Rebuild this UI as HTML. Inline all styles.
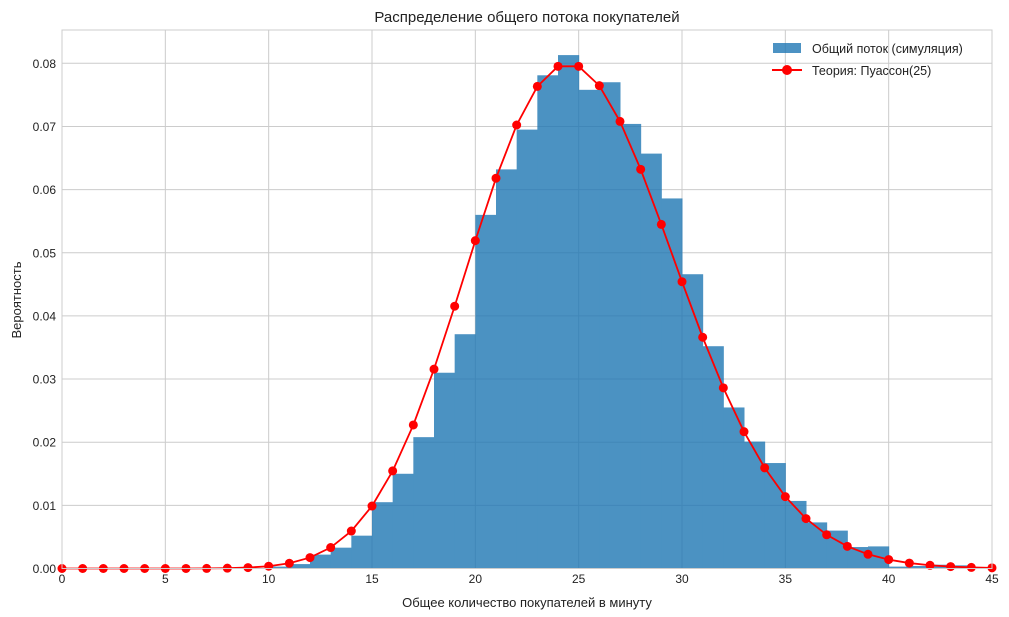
<!DOCTYPE html>
<html><head><meta charset="utf-8"><style>
body{margin:0;background:#fff;}
svg{display:block;font-family:"Liberation Sans","DejaVu Sans",sans-serif;}
</style></head><body>
<svg id="chart" width="1009" height="617">
<text x="527" y="22" text-anchor="middle" font-size="15" fill="#222">Распределение общего потока покупателей</text>
<g id="grid"></g>
<g id="bars" opacity="0.8"></g>
<g id="line"></g>
<rect x="62" y="30" width="930" height="538.5" fill="none" stroke="#ccc" stroke-width="1"/>
<g id="ticks"></g>
<text x="527" y="607" text-anchor="middle" font-size="13" fill="#222">Общее количество покупателей в минуту</text>
<text transform="translate(21,300) rotate(-90)" text-anchor="middle" font-size="13" fill="#222">Вероятность</text>
<g>
<rect x="773" y="43" width="28" height="10" fill="#1f77b4" fill-opacity="0.8"/>
<text x="812" y="53" font-size="12.5" fill="#222">Общий поток (симуляция)</text>
<line x1="772" y1="70" x2="802" y2="70" stroke="red" stroke-width="2"/>
<circle cx="787" cy="70" r="5" fill="red"/>
<text x="812" y="75" font-size="12.5" fill="#222">Теория: Пуассон(25)</text>
</g>
</svg>
<script>
const binStarts=[10,11,12,13,14,15,16,17,18,19,20,21,22,23,24,25,26,27,28,29,30,31,32,33,34,35,36,37,38,39,40,41,42,43,44];
const binValues=[0.0003,0.0007,0.0022,0.0033,0.0052,0.0105,0.015,0.0208,0.031,0.0371,0.056,0.0632,0.0695,0.0781,0.0813,0.0758,0.077,0.0704,0.0657,0.0586,0.0466,0.0352,0.0255,0.0201,0.0167,0.0107,0.0073,0.006,0.0034,0.0035,0.0003,0.0004,0.0006,0.0005,0.0001];
const poissonK=[0,1,2,3,4,5,6,7,8,9,10,11,12,13,14,15,16,17,18,19,20,21,22,23,24,25,26,27,28,29,30,31,32,33,34,35,36,37,38,39,40,41,42,43,44,45];
const poissonP=[0,0,0,0,0,0,0.000005,0.000017,0.000053,0.000146,0.00036,0.00083,0.00173,0.00332,0.00593,0.00989,0.01545,0.02273,0.03157,0.04153,0.05192,0.0618,0.07023,0.07634,0.07952,0.07952,0.07646,0.0708,0.06321,0.05449,0.04541,0.03662,0.02861,0.02167,0.01594,0.01138,0.0079,0.00534,0.00351,0.00225,0.00141,0.00086,0.00051,0.0003,0.00017,0.0001];
const xTicks=[0,5,10,15,20,25,30,35,40,45];
const yTicks=[0,0.01,0.02,0.03,0.04,0.05,0.06,0.07,0.08];
const NS="http://www.w3.org/2000/svg";
const X0=62,X1=992,Y0=568.5,YT=63.3;
function sx(v){return X0+(v-0)/45*(X1-X0);}
function sy(v){return Y0-(v/0.08)*(Y0-YT);}
function mk(tag,attrs,parent){const e=document.createElementNS(NS,tag);for(const k in attrs)e.setAttribute(k,attrs[k]);parent.appendChild(e);return e;}
const grid=document.getElementById('grid'),ticks=document.getElementById('ticks');
xTicks.forEach(t=>{
  const l=mk('line',{x1:sx(t),x2:sx(t),y1:30,y2:Y0,stroke:'#ccc','stroke-width':1},grid);
  
  
  const tx=mk('text',{x:sx(t),y:583,'text-anchor':'middle','font-size':12,fill:'#222'},ticks);
  tx.textContent=t;
  
  
});
yTicks.forEach(t=>{
  const l=mk('line',{x1:X0,x2:X1,y1:sy(t),y2:sy(t),stroke:'#ccc','stroke-width':1},grid);
  
  
  const tx=mk('text',{x:56,y:sy(t)+4.5,'text-anchor':'end','font-size':12,fill:'#222'},ticks);
  tx.textContent=t.toFixed(2);
  
  
});
const bars=document.getElementById('bars');
binStarts.forEach((b,i)=>{
  const r=mk('rect',{x:sx(b),y:sy(binValues[i]),width:sx(b+1)-sx(b)+0.5,height:Y0-sy(binValues[i]),fill:'#1f77b4'},bars);
  
  
});
const lg=document.getElementById('line');
const pts=poissonK.map((k,i)=>sx(k)+','+sy(poissonP[i])).join(' ');
const pl=mk('polyline',{points:pts,fill:'none',stroke:'red','stroke-width':1.8},lg);


poissonK.forEach((k,i)=>{
  const c=mk('circle',{cx:sx(k),cy:sy(poissonP[i]),r:4.5,fill:'red'},lg);
  
  
});
</script>
</body></html>
